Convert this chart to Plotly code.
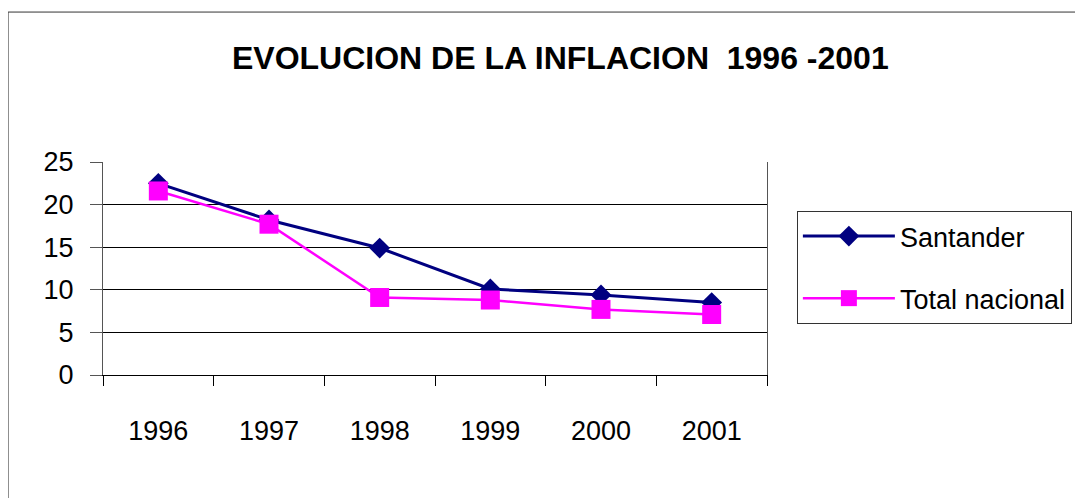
import plotly.graph_objs as go

years = ['1996', '1997', '1998', '1999', '2000', '2001']
santander = [22.5, 18.2, 14.9, 10.1, 9.4, 8.5]
total_nacional = [21.6, 17.7, 9.1, 8.8, 7.7, 7.1]

FONT = "Liberation Sans, Arial"

traces = []
traces.append(go.Scatter(
    x=years, y=santander, name='Santander', mode='lines+markers',
    legendgroup='a',
    line=dict(color='#000080', width=3),
    marker=dict(symbol='diamond', size=16, color='#000080')
))
traces.append(go.Scatter(
    x=years, y=total_nacional, name='Total nacional', mode='lines+markers',
    legendgroup='b',
    line=dict(color='#FF00FF', width=2.5),
    marker=dict(symbol='square', size=19, color='#FF00FF')
))

fig = go.Figure(data=traces)

# page has an 8px offset; plot area lands at x 103..767, y 162..375
fig.update_layout(
    width=1083, height=498,
    margin=dict(l=95, r=324, t=154, b=131, autoexpand=False),
    paper_bgcolor='white', plot_bgcolor='white',
    font=dict(family=FONT, color='black'),
    title=dict(text='<b>EVOLUCION DE LA INFLACION  1996 -2001</b>',
               x=0.51, xanchor='center', y=0.9, yanchor='middle',
               font=dict(size=32, family=FONT)),
    legend=dict(x=1.045, y=0.77, xanchor='left', yanchor='top',
                bordercolor='#333333', borderwidth=1,
                font=dict(size=27, family=FONT),
                tracegroupgap=24, itemwidth=92, entrywidth=320),
    shapes=[dict(type='rect', xref='paper', yref='paper',
                 x0=-0.143, x1=1.6, y0=-1.0, y1=1.704,
                 line=dict(color='#333333', width=1), layer='below')],
)

fig.update_xaxes(
    type='category', range=[-0.5, 5.5],
    showline=True, linecolor='black', linewidth=1,
    ticks='outside', ticklen=10, tickcolor='black', tickson='boundaries',
    tickfont=dict(size=27, family=FONT), ticklabelstandoff=32,
    showgrid=False, zeroline=False,
)
fig.update_yaxes(
    range=[0, 25], dtick=5,
    showline=True, linecolor='#555555', linewidth=1, mirror=True,
    ticks='outside', ticklen=12, tickcolor='#555555',
    tickfont=dict(size=27, family=FONT), ticklabelstandoff=11,
    showgrid=True, gridcolor='black', gridwidth=1, zeroline=False,
)

fig.write_html("out.html")
